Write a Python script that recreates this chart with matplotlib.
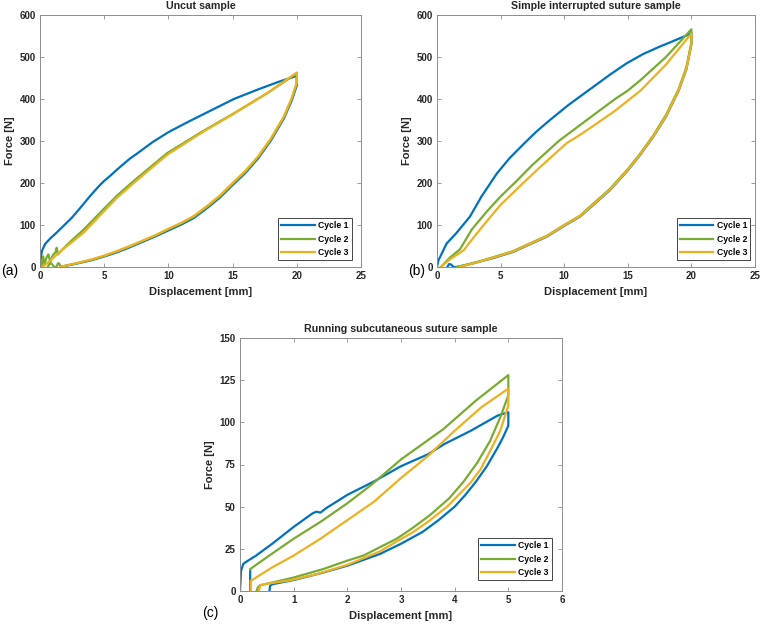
import numpy as np
import matplotlib.pyplot as plt

plt.rcParams['font.family'] = ['Liberation Sans', 'DejaVu Sans']

cycle_labels = ['Cycle 1', 'Cycle 2', 'Cycle 3']
colors = ['#0072BD', '#77AC30', '#EDB120']

# (a) uncut sample, loading followed by unloading
a_c1_x = [0, 0.05, 0.15, 0.4, 0.8, 1.3, 1.9, 2.5, 3.2, 3.9, 4.6, 5.0, 5.5, 6.0, 6.5, 7.0, 7.6, 8.8, 10, 11.5, 13, 15.1, 17, 18.5, 20,
          20, 19.6, 19, 18, 17, 16, 15, 14, 13, 12, 11, 10, 9, 8, 7, 6, 5, 4, 3, 2.5, 2, 1.6]
a_c1_y = [0, 18, 38, 55, 68, 82, 100, 118, 143, 169, 193, 205, 218, 232, 245, 258, 271, 298, 321, 345, 368, 400, 423, 440, 455,
          432, 396, 354, 302, 259, 224, 195, 165, 140, 117, 101, 87, 73, 60, 47, 35, 25, 16, 9, 6, 3, 0]
a_c2_x = [0.1, 0.25, 0.35, 0.5, 0.65, 0.8, 1.0, 1.2, 1.3, 1.4, 1.6, 2.08, 2.6, 3.4, 4.9, 6.0, 7.3, 9.9, 12.5, 15.1, 17.7, 20,
          20, 19.6, 19, 18, 17, 16, 15, 14, 13, 12, 11, 10, 9, 8, 7, 6, 5, 4, 3, 2.5, 2, 1.6, 1.5, 1.4, 1.3, 1.1, 0.9, 0.75, 0.6]
a_c2_y = [0, 25, 5, 22, 30, 12, 28, 35, 46, 30, 37, 52, 67, 89, 136, 170, 205, 271, 320, 366, 414, 461,
          437, 400, 357, 305, 262, 227, 198, 168, 143, 120, 104, 90, 75, 62, 49, 37, 26, 17, 10, 6, 3, 0, 8, 9, 1, 0, 8, 8, 0]
a_c3_x = [0.2, 0.8, 1.5, 2.6, 3.4, 4.9, 6, 7.3, 9.9, 12.5, 15.1, 17.7, 20,
          20, 19.6, 19, 18, 17, 16, 15, 14, 13, 12, 11, 10, 9, 8, 7, 6, 5, 4, 3, 2.5, 2, 1.6]
a_c3_y = [0, 15, 35, 62, 82, 130, 165, 200, 267, 318, 365, 414, 463,
          440, 402, 359, 307, 264, 229, 200, 170, 145, 122, 105, 91, 76, 63, 50, 38, 27, 18, 10, 7, 3, 0]

# (b) simple interrupted suture
b_c1_x = [0, 0.1, 0.76, 1.5, 2.59, 3.5, 4.69, 5.7, 6.78, 7.8, 8.88, 10.3, 12.29, 13.6, 14.91, 16.2, 17.53, 18.58, 19.9, 20,
          20, 19.6, 19, 18, 17, 16, 15, 13.6, 12, 11.24, 10, 8.62, 7, 6, 4.5, 3.38, 2.5, 1.55, 1.3, 1.1, 0.95, 0.85, 0.8]
b_c1_y = [0, 15, 56, 80, 120, 168, 222, 259, 292, 322, 350, 385, 429, 458, 485, 507, 525, 538, 555, 557,
          530, 470, 420, 358, 310, 268, 230, 183, 140, 120, 98, 72, 50, 36, 22, 13, 6, 0, 0, 6, 7, 2, 0]
b_c2_x = [0.3, 1, 1.8, 2.75, 4, 5, 6.2, 7.5, 9.57, 12, 14, 15, 16, 18, 20,
          20, 19.6, 19, 18, 17, 16, 15, 13.6, 12, 11.24, 10, 8.62, 7, 6, 4.5, 3.38, 2.5, 1.55]
b_c2_y = [0, 22, 42, 90, 135, 168, 203, 243, 300, 355, 400, 420, 445, 500, 566,
          535, 475, 424, 362, 313, 271, 233, 186, 143, 122, 100, 74, 52, 38, 24, 14, 7, 0]
b_c3_x = [0.3, 1, 2.1, 3, 4, 5, 6.5, 8, 10.2, 11, 12, 14, 15, 16, 18, 20,
          20, 19.6, 19, 18, 17, 16, 15, 13.6, 12, 11.24, 10, 8.62, 7, 6, 4.5, 3.38, 2.5, 1.8]
b_c3_y = [0, 18, 40, 75, 112, 148, 192, 235, 295, 310, 330, 372, 396, 420, 482, 556,
          530, 471, 421, 359, 311, 269, 231, 184, 141, 121, 99, 73, 51, 37, 23, 13, 6, 0]

# (c) running subcutaneous suture
c_c1_x = [0, 0.02, 0.06, 0.1, 0.3, 0.6, 1.0, 1.35, 1.42, 1.5, 1.6, 2.0, 2.5, 3.0, 3.5, 3.8, 4.3, 4.8, 5.0,
          5.0, 4.9, 4.8, 4.6, 4.4, 4.2, 4.0, 3.7, 3.4, 3.0, 2.61, 2.0, 1.5, 1.0, 0.6, 0.56, 0.55,
          np.nan, 0.19, 0.19]
c_c1_y = [0, 12, 16, 17, 21, 28, 38, 46, 47, 46.5, 49, 57, 65, 74, 81, 87, 95, 104, 106,
          98, 91, 85, 74, 65, 57, 50, 42, 35, 28, 22, 15, 10.5, 6.5, 4, 3, 0,
          np.nan, 0, 12]
c_c2_x = [0.19, 0.5, 1.0, 1.5, 2.0, 2.45, 3.0, 3.79, 4.4, 5.0,
          5.0, 4.85, 4.66, 4.42, 4.17, 3.9, 3.54, 3.2, 2.92, 2.61, 2.3, 2.0, 1.55, 1.0, 0.6, 0.37, 0.33, 0.31]
c_c2_y = [13, 20, 31, 41, 52, 63, 78, 96, 113, 128,
          116, 103, 89, 76, 65, 55, 45, 37, 31, 26, 21, 18, 13, 8, 5, 3.4, 2, 0]
c_c3_x = [0.2, 0.2, 0.3, 0.6, 1.0, 1.5, 2.0, 2.5, 3.0, 3.5, 4.0, 4.5, 5.0,
          5.0, 4.85, 4.66, 4.48, 4.29, 3.86, 3.5, 3.23, 2.9, 2.61, 2.0, 1.43, 0.93, 0.5, 0.38, 0.35]
c_c3_y = [0, 6, 8, 14, 21, 31, 42, 53, 67, 80, 95, 109, 120,
          110, 95, 83, 72, 64, 50, 41, 35, 29, 23.5, 15.5, 10, 6.3, 4.3, 3.4, 0]

a_xticks = [0, 5, 10, 15, 20, 25]
a_yticks = [0, 100, 200, 300, 400, 500, 600]
c_xticks = [0, 1, 2, 3, 4, 5, 6]
c_yticks = [0, 25, 50, 75, 100, 125, 150]

W, H = 764, 624
fig = plt.figure(figsize=(W / 100, H / 100), dpi=100)


def make_axes(rect_px, title, data, xticks, yticks, leg_anchor):
    l, t, r, b = rect_px
    ax = fig.add_axes([l / W, 1 - b / H, (r - l) / W, (b - t) / H])
    for (x, y), c, lab in zip(data, colors, cycle_labels):
        ax.plot(x, y, color=c, lw=1.6, label=lab)
    ax.set_xlim(xticks[0], xticks[-1])
    ax.set_ylim(yticks[0], yticks[-1])
    ax.set_xticks(xticks)
    ax.set_yticks(yticks)
    ax.tick_params(direction='in', length=3, width=0.6, top=True, right=True,
                   labelsize=7, colors='#8c8c8c', labelcolor='#262626', pad=3)
    for lbl in ax.get_xticklabels() + ax.get_yticklabels():
        lbl.set_fontweight('bold')
    for s in ax.spines.values():
        s.set_color('#8c8c8c')
        s.set_linewidth(0.7)
    ax.set_title(title, fontsize=7.7, fontweight='bold', color='#262626', pad=4)
    ax.set_xlabel('Displacement [mm]', fontsize=8, fontweight='bold', color='#262626', labelpad=4)
    ax.set_ylabel('Force [N]', fontsize=8, fontweight='bold', color='#262626', labelpad=3)
    leg = ax.legend(loc='lower right', bbox_to_anchor=leg_anchor, borderaxespad=0,
                    prop={'weight': 'bold', 'size': 6.2}, fancybox=False, framealpha=1,
                    edgecolor='#262626', handlelength=3.9, handletextpad=0.4, labelspacing=0.5,
                    borderpad=0.35)
    leg.get_frame().set_linewidth(0.6)
    return ax


make_axes((40, 15, 361, 267), 'Uncut sample',
          [(a_c1_x, a_c1_y), (a_c2_x, a_c2_y), (a_c3_x, a_c3_y)], a_xticks, a_yticks, (0.971, 0.028))
make_axes((437, 15, 755, 267), 'Simple interrupted suture sample',
          [(b_c1_x, b_c1_y), (b_c2_x, b_c2_y), (b_c3_x, b_c3_y)], a_xticks, a_yticks, (0.985, 0.028))
make_axes((240, 338, 562, 591), 'Running subcutaneous suture sample',
          [(c_c1_x, c_c1_y), (c_c2_x, c_c2_y), (c_c3_x, c_c3_y)], c_xticks, c_yticks, (0.968, 0.043))

fig.text(1 / W, 1 - 271 / H, '(a)', fontsize=10, va='center', ha='left')
fig.text(408 / W, 1 - 271 / H, '(b)', fontsize=10, va='center', ha='left')
fig.text(202 / W, 1 - 613 / H, '(c)', fontsize=10, va='center', ha='left')

fig.savefig('out.png', dpi=100)
